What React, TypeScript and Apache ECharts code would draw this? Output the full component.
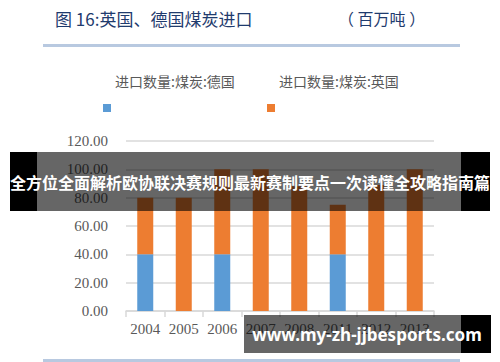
import React, { useEffect, useRef } from "react";
import * as echarts from "echarts";

const categories = ["2004", "2005", "2006", "2007", "2008", "2011", "2012", "2013"];
const germany = [40, null, 40, null, null, 40, null, null];
const uk = [40, 80, 60, 100, 88, 35, 89, 100];
const seriesNames = ["进口数量:煤炭:德国", "进口数量:煤炭:英国"];
const yTicks = { min: 0, max: 120, interval: 20 };

export default function App() {
  const ref = useRef<HTMLDivElement>(null);
  useEffect(() => {
    if (!ref.current) return;
    const chart = echarts.init(ref.current, null, { renderer: "svg" });
    const navy = "#1F3B6E";
    const grey = "#595959";
    chart.setOption({
      animation: false,
      backgroundColor: "#ffffff",
      grid: { left: 126, right: 66, top: 141, bottom: 51 },
      xAxis: {
        type: "category",
        data: categories,
        axisLine: { lineStyle: { color: "#D9D9D9", width: 1.5 } },
        axisTick: { show: true, length: 6, lineStyle: { color: "#D9D9D9", width: 1.5 } },
        axisLabel: {
          color: grey,
          fontFamily: "Liberation Serif",
          fontSize: 15,
          margin: 10,
          interval: 0,
          hideOverlap: false,
        },
      },
      yAxis: {
        type: "value",
        min: yTicks.min,
        max: yTicks.max,
        interval: yTicks.interval,
        axisLine: { show: false },
        axisTick: { show: false },
        splitLine: { lineStyle: { color: "#D9D9D9", width: 1.5 } },
        axisLabel: {
          color: grey,
          fontFamily: "Liberation Serif",
          fontSize: 15,
          margin: 18,
          formatter: (v: number) => v.toFixed(2),
        },
      },
      series: [
        {
          name: seriesNames[0],
          type: "bar",
          stack: "total",
          data: germany,
          barWidth: 16,
          itemStyle: { color: "#5B9BD5" },
        },
        {
          name: seriesNames[1],
          type: "bar",
          stack: "total",
          data: uk,
          barWidth: 16,
          itemStyle: { color: "#ED7D31" },
        },
      ],
      graphic: [
        {
          type: "text",
          left: 55,
          top: 10,
          style: { text: "图 16:英国、德国煤炭进口", fill: navy, font: "17px 'Noto Sans CJK SC'" },
        },
        {
          type: "text",
          left: 338,
          top: 10,
          style: { text: "（ 百万吨 ）", fill: navy, font: "16px 'Noto Sans CJK SC'" },
        },
        {
          type: "rect",
          shape: { x: 43, y: 44, width: 417, height: 3 },
          style: { fill: "#B8C9E0" },
        },
        {
          type: "rect",
          shape: { x: 43, y: 359, width: 417, height: 3 },
          style: { fill: "#B8C9E0" },
        },
        {
          type: "text",
          left: 115,
          top: 74,
          style: { text: seriesNames[0], fill: grey, font: "14px 'Noto Sans CJK SC'" },
        },
        {
          type: "text",
          left: 279,
          top: 74,
          style: { text: seriesNames[1], fill: grey, font: "14px 'Noto Sans CJK SC'" },
        },
        {
          type: "rect",
          shape: { x: 103, y: 104, width: 8, height: 8 },
          style: { fill: "#5B9BD5" },
        },
        {
          type: "rect",
          shape: { x: 267, y: 104, width: 8, height: 8 },
          style: { fill: "#ED7D31" },
        },
        // banner overlay
        { type: "rect", z: 100, shape: { x: 10, y: 152, width: 27, height: 59 }, style: { fill: "#000000" } },
        { type: "rect", z: 100, shape: { x: 461, y: 152, width: 29, height: 59 }, style: { fill: "#000000" } },
        { type: "rect", z: 100, shape: { x: 37, y: 152, width: 424, height: 59 }, style: { fill: "rgba(0,0,0,0.6)" } },
        {
          type: "text",
          z: 101,
          x: 250,
          y: 182,
          style: {
            text: "全方位全面解析欧协联决赛规则最新赛制要点一次读懂全攻略指南篇",
            fill: "#ffffff",
            font: "bold 16px 'Noto Sans CJK SC'",
            align: "center",
            verticalAlign: "middle",
          },
        },
        // watermark
        { type: "rect", z: 100, shape: { x: 244, y: 315, width: 217, height: 38 }, style: { fill: "rgba(0,0,0,0.6)" } },
        { type: "rect", z: 100, shape: { x: 461, y: 315, width: 30, height: 38 }, style: { fill: "#000000" } },
        {
          type: "text",
          z: 101,
          x: 367,
          y: 334,
          style: {
            text: "www.my-zh-jjbesports.com",
            fill: "#ffffff",
            font: "bold 17px 'Noto Sans'",
            align: "center",
            verticalAlign: "middle",
          },
        },
      ],
    });
    return () => chart.dispose();
  }, []);
  return <div ref={ref} style={{ width: 500, height: 362, position: "absolute", left: 0, top: 0 }} />;
}
